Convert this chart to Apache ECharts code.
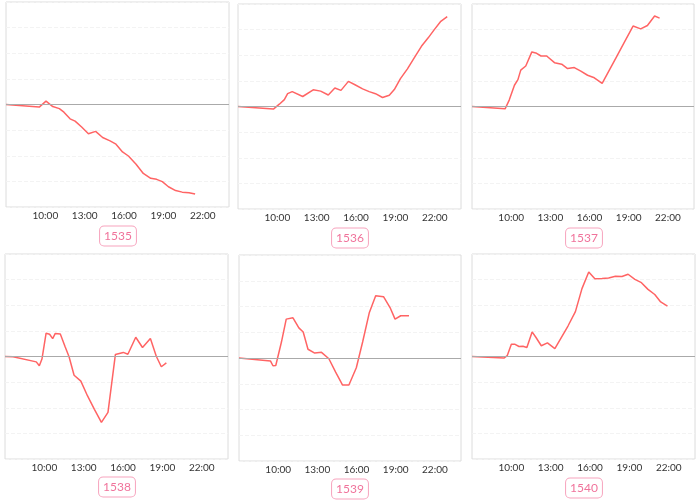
<!DOCTYPE html>
<html><head><meta charset="utf-8">
<script src="https://cdn.jsdelivr.net/npm/echarts@6/dist/echarts.min.js"></script>
<style>html,body{margin:0;padding:0;background:#fff}#c{width:700px;height:501px}</style>
</head><body><div id="c"></div>
<script>
const panelNames = ["1535","1536","1537","1538","1539","1540"];
const xTickLabels = ["10:00","13:00","16:00","19:00","22:00"];

const times1535 = ["07:00","09:32","10:03","10:34","11:04","11:25","11:53","12:16","12:46","13:17","13:50","14:22","14:56","15:23","15:53","16:20","16:55","17:28","18:02","18:29","18:55","19:23","19:56","20:26","20:57","21:25"];
const vals1535 = [0,-0.10,0.13,-0.08,-0.16,-0.30,-0.56,-0.65,-0.88,-1.14,-1.05,-1.29,-1.42,-1.55,-1.85,-2.01,-2.33,-2.69,-2.88,-2.92,-3.01,-3.21,-3.36,-3.42,-3.44,-3.49];

const times1536 = ["07:00","09:42","10:09","10:32","10:47","11:08","11:56","12:44","13:18","13:53","14:23","14:51","15:25","15:55","16:30","17:00","17:29","18:01","18:32","18:55","19:23","19:55","20:26","20:59","21:30","21:57","22:26","22:57"];
const vals1536 = [0,-0.10,0.09,0.27,0.50,0.58,0.39,0.65,0.60,0.45,0.72,0.63,0.98,0.85,0.69,0.58,0.50,0.35,0.44,0.66,1.09,1.47,1.90,2.35,2.68,2.99,3.31,3.51];

const times1537 = ["07:00","09:32","09:51","10:15","10:31","10:44","11:07","11:35","11:53","12:17","12:43","13:19","13:52","14:19","14:50","15:20","15:51","16:22","16:58","17:31","18:04","18:39","19:20","19:55","20:26","20:59","21:22"];
const vals1537 = [0,-0.09,0.25,0.83,1.05,1.42,1.58,2.13,2.09,1.97,1.97,1.71,1.65,1.48,1.52,1.38,1.22,1.12,0.90,1.42,1.94,2.49,3.14,3.03,3.16,3.53,3.45];

const times1538 = ["07:00","07:37","09:23","09:37","09:49","10:08","10:24","10:38","10:50","11:13","11:35","11:53","12:16","12:47","13:17","13:49","14:21","14:51","15:25","16:01","16:22","16:58","17:29","18:05","18:32","18:55","19:18"];
const vals1538 = [0,-0.01,-0.21,-0.36,-0.10,0.91,0.87,0.70,0.90,0.88,0.38,-0.01,-0.73,-0.96,-1.53,-2.06,-2.57,-2.18,0.08,0.16,0.09,0.75,0.35,0.70,0.01,-0.40,-0.25];

const times1539 = ["07:00","09:25","09:36","09:49","10:15","10:37","11:08","11:35","11:55","12:17","12:48","13:19","13:53","14:24","14:56","15:25","15:59","16:28","16:59","17:28","18:04","18:34","18:57","19:23","20:01"];
const vals1539 = [0,-0.12,-0.30,-0.29,0.62,1.51,1.56,1.17,1.01,0.34,0.19,0.22,-0.03,-0.55,-1.05,-1.05,-0.38,0.62,1.77,2.42,2.38,1.96,1.51,1.64,1.64];

const times1540 = ["07:00","09:26","09:41","10:00","10:15","10:35","10:53","11:11","11:35","11:52","12:17","12:45","13:19","13:49","14:19","14:53","15:23","15:54","16:22","16:55","17:25","17:56","18:26","18:54","19:25","19:55","20:25","20:56","21:23","21:54"];
const vals1540 = [0,-0.06,0.03,0.48,0.48,0.39,0.40,0.35,0.96,0.75,0.42,0.53,0.31,0.75,1.19,1.75,2.65,3.30,3.03,3.04,3.06,3.13,3.12,3.21,3.01,2.88,2.62,2.42,2.13,1.97];

const allTimes = [times1535,times1536,times1537,times1538,times1539,times1540];
const allVals = [vals1535,vals1536,vals1537,vals1538,vals1539,vals1540];

function toMin(t){const p=t.split(":");return (+p[0])*60+(+p[1]);}
function fmt(m){const h=Math.floor(m/60);const mm=m%60;return (h<10?"0":"")+h+":"+(mm<10?"0":"")+mm;}

const gridBoxes = [
  {left:6,top:2,width:223,height:205},
  {left:238,top:4,width:223,height:205},
  {left:472,top:4,width:222,height:205},
  {left:5,top:254,width:223,height:205},
  {left:239,top:255,width:222,height:206},
  {left:472,top:254,width:223,height:205}
];
const labelPos = [[118,236],[350,238],[584,238],[117,487],[350,489],[584,488]];

const grids=[],xAxes=[],yAxes=[],series=[],graphics=[];
for(let i=0;i<6;i++){
  const g=gridBoxes[i];
  grids.push({left:g.left,top:g.top,width:g.width,height:g.height,show:true,borderColor:'#dcdcdc',borderWidth:1,containLabel:false});
  xAxes.push({type:'value',gridIndex:i,min:420,max:1440,interval:180,
    axisLine:{show:false},axisTick:{show:false},splitLine:{show:false},
    axisLabel:{showMinLabel:false,showMaxLabel:false,fontSize:10,color:'#333',margin:4,fontFamily:'Lato, Noto Sans, sans-serif',
      formatter:function(v){const s=fmt(v);return xTickLabels.indexOf(s)>=0?s:'';}}});
  yAxes.push({type:'value',gridIndex:i,min:-4,max:4,interval:1,
    axisLine:{show:false},axisTick:{show:false},axisLabel:{show:false},
    splitLine:{show:true,lineStyle:{color:'#f3f3f3',type:'dashed',width:1}}});
  const d=allTimes[i].map((t,k)=>[toMin(t),allVals[i][k]]);
  series.push({type:'line',xAxisIndex:i,yAxisIndex:i,data:d,showSymbol:false,symbol:'none',
    lineStyle:{color:'#ff6464',width:1.5},itemStyle:{color:'#ff6464'},animation:false,
    markLine:{silent:true,symbol:'none',label:{show:false},lineStyle:{color:'#aaaaaa',type:'solid',width:1.2},data:[{yAxis:0}],animation:false}});
  graphics.push({type:'text',x:labelPos[i][0],y:labelPos[i][1],
    style:{text:panelNames[i],fill:'#f0739b',font:'12px Lato, "Noto Sans", sans-serif',align:'center',verticalAlign:'middle',
      borderColor:'#f7a3bd',borderWidth:1,borderRadius:4,padding:[4,4,3,4],backgroundColor:'#fff'}});
}
const chart=echarts.init(document.getElementById('c'),null,{renderer:'canvas'});
chart.setOption({animation:false,grid:grids,xAxis:xAxes,yAxis:yAxes,series:series,graphic:graphics});
</script></body></html>
